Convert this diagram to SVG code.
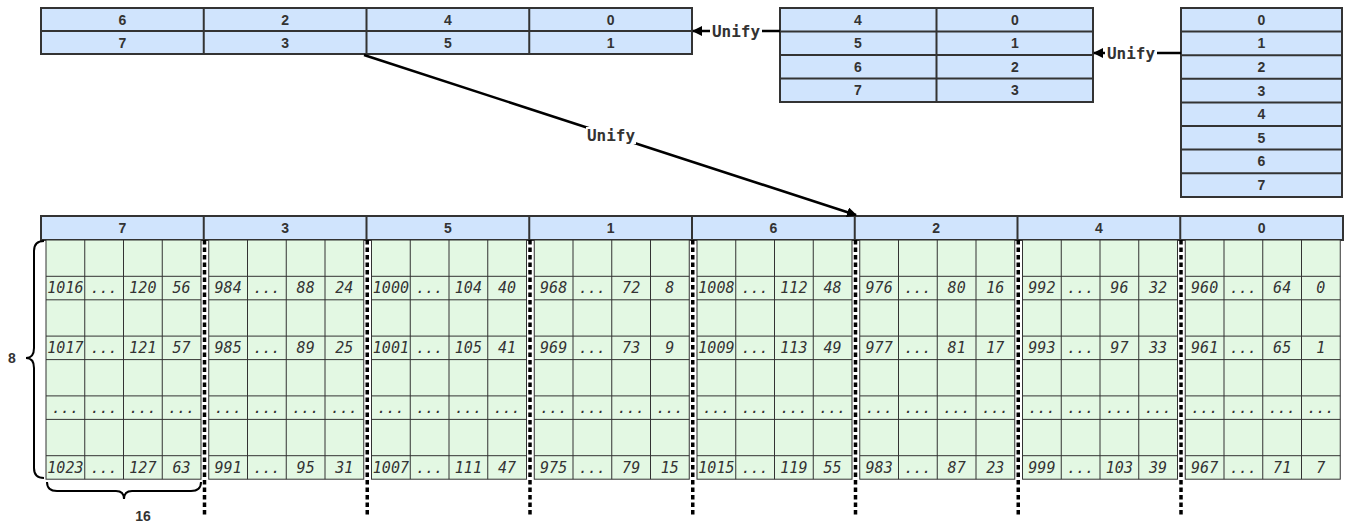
<svg xmlns="http://www.w3.org/2000/svg" xmlns:xlink="http://www.w3.org/1999/xlink" width="1351" height="522" viewBox="0 0 1351 522">
<style>
.b{fill:#d0e4fd;stroke:#333;stroke-width:2}
.hl{stroke:#333;stroke-width:2;fill:none}
.ht{font-family:"Liberation Sans",Arial,sans-serif;font-weight:bold;font-size:14px;fill:#333;text-anchor:middle}
.g{fill:#e3f8e3;stroke:#333;stroke-width:1}
.gl{stroke:#333;stroke-width:1;fill:none}
.c{font-family:"DejaVu Sans Mono",monospace;font-style:oblique;font-size:15px;fill:#333;text-anchor:middle}
.u{font-family:"DejaVu Sans Mono",monospace;font-weight:bold;font-size:16px;fill:#333;text-anchor:middle}
.e{stroke:#000;stroke-width:2.5;fill:none}
.d{stroke:#000;stroke-width:3.5;stroke-dasharray:4.5 3;fill:none}
.br{stroke:#000;stroke-width:2;fill:none}
</style>
<defs>
<marker id="ah" viewBox="0 0 10 10" refX="9" refY="5" markerWidth="4" markerHeight="4" orient="auto" markerUnits="strokeWidth">
<path d="M0,0 L10,5 L0,10 z" fill="#000"/>
</marker>
<g id="blk">
<rect class="g" x="0" y="0" width="155" height="239.2"/>
<path class="gl" d="M38.75,0V239.2M77.5,0V239.2M116.25,0V239.2M0,36.3H155M0,59.8H155M0,96.1H155M0,119.6H155M0,155.9H155M0,179.4H155M0,215.7H155"/>
</g>
</defs>

<g id="table-a">
<rect class="b" x="41" y="8" width="651" height="46"/>
<path class="hl" d="M41,31H692M203.75,8V54M366.5,8V54M529.25,8V54"/>
<text class="ht" x="122.4" y="24.5">6</text>
<text class="ht" x="285.1" y="24.5">2</text>
<text class="ht" x="447.9" y="24.5">4</text>
<text class="ht" x="610.6" y="24.5">0</text>
<text class="ht" x="122.4" y="47.5">7</text>
<text class="ht" x="285.1" y="47.5">3</text>
<text class="ht" x="447.9" y="47.5">5</text>
<text class="ht" x="610.6" y="47.5">1</text>
</g>

<g id="table-b">
<rect class="b" x="780" y="8" width="313" height="94"/>
<path class="hl" d="M936.5,8V102M780,31.5H1093M780,55H1093M780,78.5H1093"/>
<text class="ht" x="858" y="24.5">4</text>
<text class="ht" x="1015" y="24.5">0</text>
<text class="ht" x="858" y="48">5</text>
<text class="ht" x="1015" y="48">1</text>
<text class="ht" x="858" y="71.5">6</text>
<text class="ht" x="1015" y="71.5">2</text>
<text class="ht" x="858" y="95">7</text>
<text class="ht" x="1015" y="95">3</text>
</g>

<g id="table-c">
<rect class="b" x="1181" y="8" width="161" height="189"/>
<path class="hl" d="M1181,31.6H1342M1181,55.2H1342M1181,78.8H1342M1181,102.4H1342M1181,126H1342M1181,149.6H1342M1181,173.2H1342"/>
<text class="ht" x="1261.5" y="24.8">0</text>
<text class="ht" x="1261.5" y="48.4">1</text>
<text class="ht" x="1261.5" y="72">2</text>
<text class="ht" x="1261.5" y="95.6">3</text>
<text class="ht" x="1261.5" y="119.2">4</text>
<text class="ht" x="1261.5" y="142.8">5</text>
<text class="ht" x="1261.5" y="166.4">6</text>
<text class="ht" x="1261.5" y="190">7</text>
</g>

<g id="header">
<rect class="b" x="41" y="216" width="1302" height="24"/>
<path class="hl" d="M203.75,216V240M366.5,216V240M529.25,216V240M692,216V240M854.75,216V240M1017.5,216V240M1180.25,216V240"/>
<text class="ht" x="122.4" y="233">7</text>
<text class="ht" x="285.1" y="233">3</text>
<text class="ht" x="447.9" y="233">5</text>
<text class="ht" x="610.6" y="233">1</text>
<text class="ht" x="773.4" y="233">6</text>
<text class="ht" x="936.1" y="233">2</text>
<text class="ht" x="1098.9" y="233">4</text>
<text class="ht" x="1261.6" y="233">0</text>
</g>

<g id="block-7" transform="translate(46,240)">
<use xlink:href="#blk"/>
<text class="c" x="19.4" y="53">1016</text><text class="c" x="58.1" y="53">...</text><text class="c" x="96.9" y="53">120</text><text class="c" x="135.6" y="53">56</text>
<text class="c" x="19.4" y="113">1017</text><text class="c" x="58.1" y="113">...</text><text class="c" x="96.9" y="113">121</text><text class="c" x="135.6" y="113">57</text>
<text class="c" x="19.4" y="172.5">...</text><text class="c" x="58.1" y="172.5">...</text><text class="c" x="96.9" y="172.5">...</text><text class="c" x="135.6" y="172.5">...</text>
<text class="c" x="19.4" y="232.5">1023</text><text class="c" x="58.1" y="232.5">...</text><text class="c" x="96.9" y="232.5">127</text><text class="c" x="135.6" y="232.5">63</text>
</g>
<g id="block-3" transform="translate(208.75,240)">
<use xlink:href="#blk"/>
<text class="c" x="19.4" y="53">984</text><text class="c" x="58.1" y="53">...</text><text class="c" x="96.9" y="53">88</text><text class="c" x="135.6" y="53">24</text>
<text class="c" x="19.4" y="113">985</text><text class="c" x="58.1" y="113">...</text><text class="c" x="96.9" y="113">89</text><text class="c" x="135.6" y="113">25</text>
<text class="c" x="19.4" y="172.5">...</text><text class="c" x="58.1" y="172.5">...</text><text class="c" x="96.9" y="172.5">...</text><text class="c" x="135.6" y="172.5">...</text>
<text class="c" x="19.4" y="232.5">991</text><text class="c" x="58.1" y="232.5">...</text><text class="c" x="96.9" y="232.5">95</text><text class="c" x="135.6" y="232.5">31</text>
</g>
<g id="block-5" transform="translate(371.5,240)">
<use xlink:href="#blk"/>
<text class="c" x="19.4" y="53">1000</text><text class="c" x="58.1" y="53">...</text><text class="c" x="96.9" y="53">104</text><text class="c" x="135.6" y="53">40</text>
<text class="c" x="19.4" y="113">1001</text><text class="c" x="58.1" y="113">...</text><text class="c" x="96.9" y="113">105</text><text class="c" x="135.6" y="113">41</text>
<text class="c" x="19.4" y="172.5">...</text><text class="c" x="58.1" y="172.5">...</text><text class="c" x="96.9" y="172.5">...</text><text class="c" x="135.6" y="172.5">...</text>
<text class="c" x="19.4" y="232.5">1007</text><text class="c" x="58.1" y="232.5">...</text><text class="c" x="96.9" y="232.5">111</text><text class="c" x="135.6" y="232.5">47</text>
</g>
<g id="block-1" transform="translate(534.25,240)">
<use xlink:href="#blk"/>
<text class="c" x="19.4" y="53">968</text><text class="c" x="58.1" y="53">...</text><text class="c" x="96.9" y="53">72</text><text class="c" x="135.6" y="53">8</text>
<text class="c" x="19.4" y="113">969</text><text class="c" x="58.1" y="113">...</text><text class="c" x="96.9" y="113">73</text><text class="c" x="135.6" y="113">9</text>
<text class="c" x="19.4" y="172.5">...</text><text class="c" x="58.1" y="172.5">...</text><text class="c" x="96.9" y="172.5">...</text><text class="c" x="135.6" y="172.5">...</text>
<text class="c" x="19.4" y="232.5">975</text><text class="c" x="58.1" y="232.5">...</text><text class="c" x="96.9" y="232.5">79</text><text class="c" x="135.6" y="232.5">15</text>
</g>
<g id="block-6" transform="translate(697,240)">
<use xlink:href="#blk"/>
<text class="c" x="19.4" y="53">1008</text><text class="c" x="58.1" y="53">...</text><text class="c" x="96.9" y="53">112</text><text class="c" x="135.6" y="53">48</text>
<text class="c" x="19.4" y="113">1009</text><text class="c" x="58.1" y="113">...</text><text class="c" x="96.9" y="113">113</text><text class="c" x="135.6" y="113">49</text>
<text class="c" x="19.4" y="172.5">...</text><text class="c" x="58.1" y="172.5">...</text><text class="c" x="96.9" y="172.5">...</text><text class="c" x="135.6" y="172.5">...</text>
<text class="c" x="19.4" y="232.5">1015</text><text class="c" x="58.1" y="232.5">...</text><text class="c" x="96.9" y="232.5">119</text><text class="c" x="135.6" y="232.5">55</text>
</g>
<g id="block-2" transform="translate(859.75,240)">
<use xlink:href="#blk"/>
<text class="c" x="19.4" y="53">976</text><text class="c" x="58.1" y="53">...</text><text class="c" x="96.9" y="53">80</text><text class="c" x="135.6" y="53">16</text>
<text class="c" x="19.4" y="113">977</text><text class="c" x="58.1" y="113">...</text><text class="c" x="96.9" y="113">81</text><text class="c" x="135.6" y="113">17</text>
<text class="c" x="19.4" y="172.5">...</text><text class="c" x="58.1" y="172.5">...</text><text class="c" x="96.9" y="172.5">...</text><text class="c" x="135.6" y="172.5">...</text>
<text class="c" x="19.4" y="232.5">983</text><text class="c" x="58.1" y="232.5">...</text><text class="c" x="96.9" y="232.5">87</text><text class="c" x="135.6" y="232.5">23</text>
</g>
<g id="block-4" transform="translate(1022.5,240)">
<use xlink:href="#blk"/>
<text class="c" x="19.4" y="53">992</text><text class="c" x="58.1" y="53">...</text><text class="c" x="96.9" y="53">96</text><text class="c" x="135.6" y="53">32</text>
<text class="c" x="19.4" y="113">993</text><text class="c" x="58.1" y="113">...</text><text class="c" x="96.9" y="113">97</text><text class="c" x="135.6" y="113">33</text>
<text class="c" x="19.4" y="172.5">...</text><text class="c" x="58.1" y="172.5">...</text><text class="c" x="96.9" y="172.5">...</text><text class="c" x="135.6" y="172.5">...</text>
<text class="c" x="19.4" y="232.5">999</text><text class="c" x="58.1" y="232.5">...</text><text class="c" x="96.9" y="232.5">103</text><text class="c" x="135.6" y="232.5">39</text>
</g>
<g id="block-0" transform="translate(1185.25,240)">
<use xlink:href="#blk"/>
<text class="c" x="19.4" y="53">960</text><text class="c" x="58.1" y="53">...</text><text class="c" x="96.9" y="53">64</text><text class="c" x="135.6" y="53">0</text>
<text class="c" x="19.4" y="113">961</text><text class="c" x="58.1" y="113">...</text><text class="c" x="96.9" y="113">65</text><text class="c" x="135.6" y="113">1</text>
<text class="c" x="19.4" y="172.5">...</text><text class="c" x="58.1" y="172.5">...</text><text class="c" x="96.9" y="172.5">...</text><text class="c" x="135.6" y="172.5">...</text>
<text class="c" x="19.4" y="232.5">967</text><text class="c" x="58.1" y="232.5">...</text><text class="c" x="96.9" y="232.5">71</text><text class="c" x="135.6" y="232.5">7</text>
</g>

<g id="separators">
<path class="d" d="M204.5,240V516M367.25,240V516M530,240V516M692.75,240V516M855.5,240V516M1018.25,240V516M1181,240V516"/>
</g>

<g id="braces">
<path class="br" d="M44,241Q34,241 34,251V348Q34,358 26,358Q34,358 34,368V468Q34,478 44,478"/>
<text class="ht" x="12" y="363">8</text>
<path class="br" d="M47,482Q47,491 57,491H116Q124,491 124,499Q124,491 132,491H191Q201,491 201,482"/>
<text class="ht" x="143" y="521">16</text>
</g>

<g id="connectors">
<path class="e" d="M780,31H693" marker-end="url(#ah)"/>
<rect x="710" y="22" width="52" height="18" fill="#fff"/>
<text class="u" x="736" y="36.5">Unify</text>
<path class="e" d="M1181,53H1094" marker-end="url(#ah)"/>
<rect x="1105" y="44" width="52" height="18" fill="#fff"/>
<text class="u" x="1131" y="58.5">Unify</text>
<path class="e" d="M364,55L856,215" marker-end="url(#ah)"/>
<rect x="586" y="127" width="50" height="17" fill="#fff"/>
<text class="u" x="611" y="140.5">Unify</text>
</g>
</svg>
